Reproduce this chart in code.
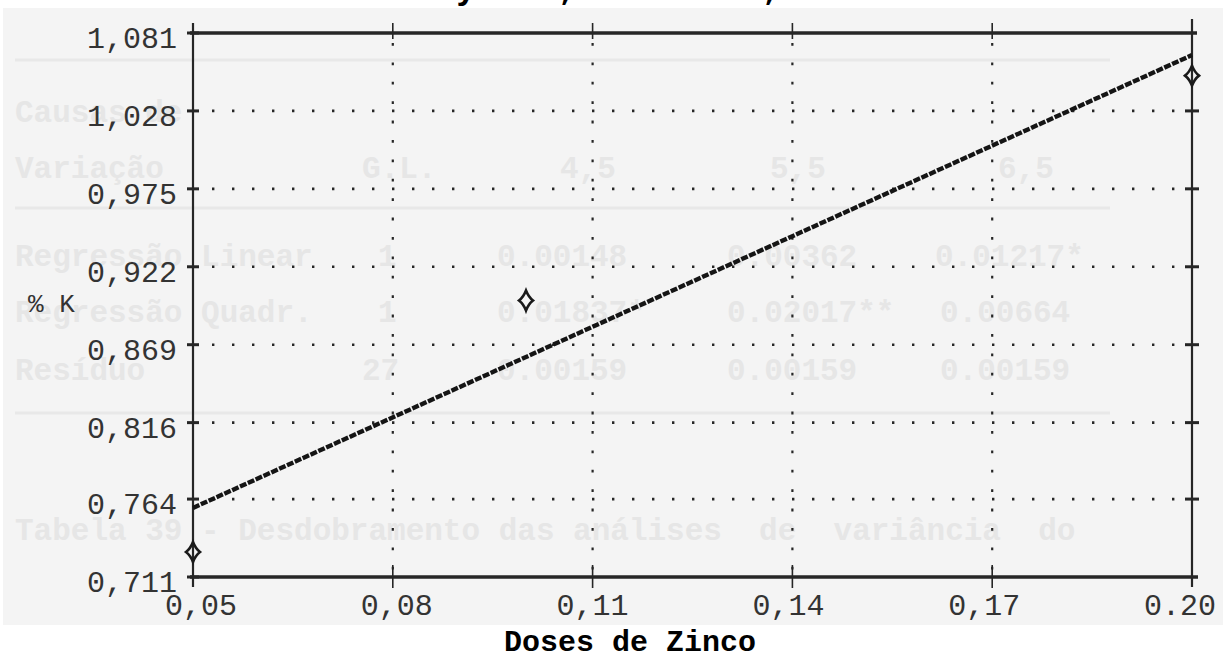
<!DOCTYPE html>
<html>
<head>
<meta charset="utf-8">
<script src="https://cdn.jsdelivr.net/npm/d3@7"></script>
<style>
	body { margin: 0; background: #fff; }
	svg { display: block; }
</style>
</head>
<body>
<div id="chart"></div>
<script>
// Chart data
var xTicks = [0.05, 0.08, 0.11, 0.14, 0.17, 0.2];
var xLabels = ["0,05", "0,08", "0,11", "0,14", "0,17", "0.20"];
var yTicks = [0.711, 0.764, 0.816, 0.869, 0.922, 0.975, 1.028, 1.081];
var yLabels = ["0,711", "0,764", "0,816", "0,869", "0,922", "0,975", "1,028", "1,081"];
var doses = [0.05, 0.1, 0.2];
var potassium = [0.728, 0.899, 1.052];
var fitDoses = [0.05, 0.2];
var fitK = [0.758, 1.066];
var yTitle = "% K";
var xTitle = "Doses de Zinco";
var topTitle = "y = 0,6656 +  1,9265x";

// Faint text showing through from the other side of the page
var bleedRows = [
	{ y: 122, cells: [[15, "Causas de"]] },
	{ y: 178, cells: [[15, "Variação"], [362, "G.L."], [560, "4,5"], [770, "5,5"], [998, "6,5"]] },
	{ y: 266, cells: [[15, "Regressão Linear"], [378, "1"], [497, "0.00148"], [727, "0.00362"], [935, "0.01217*"]] },
	{ y: 322, cells: [[15, "Regressão Quadr."], [378, "1"], [497, "0.01837*"], [727, "0.02017**"], [940, "0.00664"]] },
	{ y: 380, cells: [[15, "Resíduo"], [362, "27"], [497, "0.00159"], [727, "0.00159"], [940, "0.00159"]] },
	{ y: 540, cells: [[15, "Tabela 39 - Desdobramento das análises  de  variância  do"]] }
];
var bleedRules = [60, 208, 413];

var width = 1232,
	height = 660;
var marginTop = 33,
	marginBottom = 83,
	marginLeft = 193,
	marginRight = 40;

var mono = "'Liberation Mono', 'Courier New', monospace";
var ink = "#262626";

var svg = d3
	.select("#chart")
	.append("svg")
	.attr("width", width)
	.attr("height", height);

// scanned paper
svg
	.append("rect")
	.attr("x", 3)
	.attr("y", 8)
	.attr("width", 1220)
	.attr("height", 617)
	.attr("fill", "#f4f4f4");

// bleed-through
var bleed = svg.append("g").attr("fill", "#e6e6e6").attr("font-family", mono).attr("font-weight", "bold").attr("font-size", 31);
bleedRows.forEach(function (r) {
	r.cells.forEach(function (c) {
		bleed.append("text").attr("x", c[0]).attr("y", r.y).attr("xml:space", "preserve").text(c[1]);
	});
});
svg
	.append("g")
	.selectAll("line")
	.data(bleedRules)
	.join("line")
	.attr("x1", 15)
	.attr("x2", 1110)
	.attr("y1", (d) => d)
	.attr("y2", (d) => d)
	.attr("stroke", "#e8e8e8")
	.attr("stroke-width", 3);

// Scales
const x = d3
	.scaleLinear()
	.domain([xTicks[0], xTicks[xTicks.length - 1]])
	.range([marginLeft, width - marginRight]);
const xLab = d3
	.scaleLinear()
	.domain(x.domain())
	.range([marginLeft + 8, width - marginRight - 12]);
const y = d3
	.scaleLinear()
	.domain([yTicks[0], yTicks[yTicks.length - 1]])
	.range([height - marginBottom, marginTop]);

var x0 = x.range()[0],
	x1 = x.range()[1],
	y0 = y.range()[0],
	y1 = y.range()[1];

// dotted grid
svg
	.append("g")
	.selectAll("line")
	.data(yTicks.slice(1, -1))
	.join("line")
	.attr("x1", x0 + 19)
	.attr("x2", x1 - 10)
	.attr("y1", (d) => y(d))
	.attr("y2", (d) => y(d))
	.attr("stroke", ink)
	.attr("stroke-width", 2.6)
	.attr("stroke-dasharray", "2.4,17.6");
svg
	.append("g")
	.selectAll("line")
	.data(xTicks.slice(1, -1))
	.join("line")
	.attr("x1", (d) => x(d))
	.attr("x2", (d) => x(d))
	.attr("y1", y1 + 10)
	.attr("y2", y0)
	.attr("stroke", ink)
	.attr("stroke-width", 2.2)
	.attr("stroke-dasharray", "2.8,16.6");

// ticks crossing the frame
svg
	.append("g")
	.selectAll("line")
	.data(xTicks.slice(1, -1))
	.join("line")
	.attr("x1", (d) => x(d))
	.attr("x2", (d) => x(d))
	.attr("y1", y1 - 10)
	.attr("y2", y1 + 6)
	.attr("stroke", ink)
	.attr("stroke-width", 1.6);
svg
	.append("g")
	.selectAll("line")
	.data(xTicks.slice(1, -1))
	.join("line")
	.attr("x1", (d) => x(d))
	.attr("x2", (d) => x(d))
	.attr("y1", y0 - 12)
	.attr("y2", y0 + 11)
	.attr("stroke", ink)
	.attr("stroke-width", 1.6);
svg
	.append("g")
	.selectAll("line")
	.data(yTicks)
	.join("line")
	.attr("x1", x0 - 6)
	.attr("x2", x0 + 6)
	.attr("y1", (d) => y(d))
	.attr("y2", (d) => y(d))
	.attr("stroke", ink)
	.attr("stroke-width", 3);
svg
	.append("g")
	.selectAll("line")
	.data(yTicks.slice(1, -1))
	.join("line")
	.attr("x1", x1 - 7)
	.attr("x2", x1 + 7)
	.attr("y1", (d) => y(d))
	.attr("y2", (d) => y(d))
	.attr("stroke", ink)
	.attr("stroke-width", 3);

// frame
svg.append("line").attr("x1", x0).attr("x2", x0).attr("y1", y1 - 10).attr("y2", y0 + 10).attr("stroke", ink).attr("stroke-width", 2.2);
svg.append("line").attr("x1", x1).attr("x2", x1).attr("y1", y1 - 14).attr("y2", y0 + 10).attr("stroke", ink).attr("stroke-width", 2.2);
svg.append("line").attr("x1", x0 - 3).attr("x2", x1 + 5).attr("y1", y1).attr("y2", y1).attr("stroke", ink).attr("stroke-width", 3.6);
svg.append("line").attr("x1", x0 - 3).attr("x2", x1 + 6).attr("y1", y0).attr("y2", y0).attr("stroke", ink).attr("stroke-width", 3.6);

// tick labels
svg
	.append("g")
	.attr("font-family", mono)
	.attr("font-size", 30)
	.attr("fill", "#333")
	.attr("text-anchor", "end")
	.selectAll("text")
	.data(yTicks)
	.join("text")
	.attr("x", x0 - 16)
	.attr("y", (d) => y(d) + 15)
	.text((d, i) => yLabels[i]);
svg
	.append("g")
	.attr("font-family", mono)
	.attr("font-size", 30)
	.attr("fill", "#333")
	.attr("text-anchor", "middle")
	.selectAll("text")
	.data(xTicks)
	.join("text")
	.attr("x", (d) => xLab(d))
	.attr("y", y0 + 38)
	.text((d, i) => xLabels[i]);

// axis titles
svg.append("text").attr("x", 28).attr("y", 312).attr("font-family", mono).attr("font-size", 26).attr("fill", "#333").text(yTitle);
svg
	.append("text")
	.attr("x", 630)
	.attr("y", 651)
	.attr("text-anchor", "middle")
	.attr("font-family", mono)
	.attr("font-weight", "bold")
	.attr("font-size", 30)
	.attr("fill", "#000")
	.text(xTitle);
svg
	.append("text")
	.attr("x", 456)
	.attr("y", -1)
	.attr("xml:space", "preserve")
	.attr("font-family", mono)
	.attr("font-weight", "bold")
	.attr("font-size", 34)
	.attr("fill", "#000")
	.text(topTitle);

// fitted line
const line = d3
	.line()
	.x((d, i) => x(fitDoses[i]))
	.y((d) => y(d));
svg
	.append("path")
	.attr("d", line(fitK))
	.attr("fill", "none")
	.attr("stroke", "#151515")
	.attr("stroke-width", 4.4)
	.attr("stroke-dasharray", "7,1.6");

// observed points
const marker = "M0,-10 Q2.5,-3.5 7,0 Q2.5,3.5 0,10 Q-2.5,3.5 -7,0 Q-2.5,-3.5 0,-10 Z";
svg
	.append("g")
	.selectAll("path")
	.data(doses)
	.join("path")
	.attr("transform", (d, i) => `translate(${x(d)},${y(potassium[i])})`)
	.attr("d", marker)
	.attr("fill", "none")
	.attr("stroke", "#1a1a1a")
	.attr("stroke-width", 2.6);
</script>
</body>
</html>
